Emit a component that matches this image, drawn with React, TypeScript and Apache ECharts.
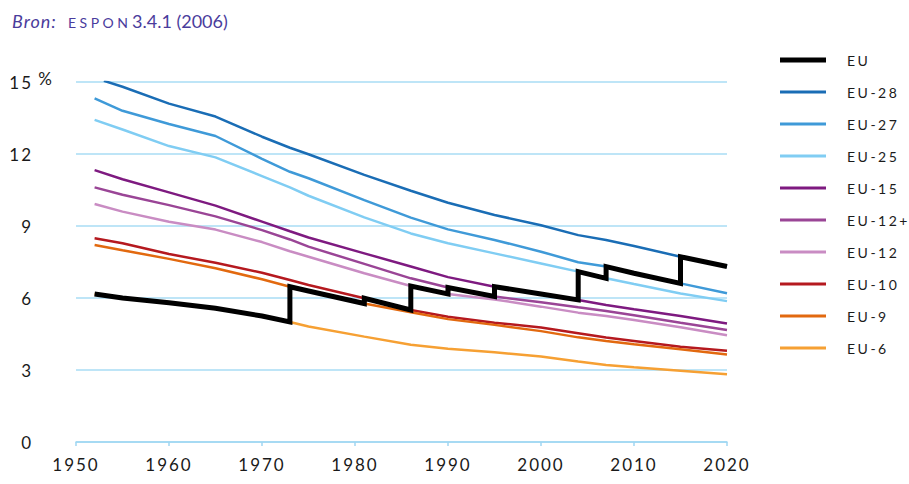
import React, { useEffect, useRef } from "react";
import * as echarts from "echarts";

const years = [1952, 1955, 1960, 1965, 1970, 1973, 1975, 1981, 1986, 1990, 1995, 2000, 2004, 2007, 2010, 2015, 2020];
const years28 = [1953, 1955, 1960, 1965, 1970, 1973, 1975, 1981, 1986, 1990, 1995, 2000, 2004, 2007, 2010, 2015, 2020];

// Share (%) per enlargement variant
const eu28 = [15.05, 14.8, 14.1, 13.56, 12.72, 12.26, 11.99, 11.13, 10.47, 9.97, 9.46, 9.03, 8.62, 8.42, 8.17, 7.72, 7.31];
const eu27 = [14.32, 13.8, 13.25, 12.75, 11.8, 11.26, 10.99, 10.08, 9.35, 8.86, 8.42, 7.93, 7.49, 7.31, 7.03, 6.61, 6.2];
const eu25 = [13.42, 13.02, 12.33, 11.86, 11.08, 10.61, 10.26, 9.36, 8.69, 8.28, 7.86, 7.44, 7.1, 6.82, 6.58, 6.19, 5.87];
const eu15 = [11.33, 10.95, 10.4, 9.85, 9.18, 8.78, 8.52, 7.86, 7.31, 6.87, 6.47, 6.17, 5.92, 5.71, 5.53, 5.25, 4.94];
const eu12plus = [10.61, 10.3, 9.87, 9.4, 8.83, 8.44, 8.14, 7.42, 6.82, 6.44, 6.06, 5.82, 5.61, 5.46, 5.28, 4.97, 4.67];
const eu12 = [9.92, 9.6, 9.18, 8.85, 8.33, 7.95, 7.72, 7.03, 6.5, 6.17, 5.94, 5.64, 5.39, 5.25, 5.08, 4.78, 4.45];
const eu10 = [8.49, 8.28, 7.83, 7.47, 7.05, 6.75, 6.54, 5.99, 5.5, 5.22, 4.97, 4.77, 4.53, 4.35, 4.21, 3.97, 3.8];
const eu9 = [8.21, 7.99, 7.63, 7.24, 6.78, 6.47, 6.29, 5.77, 5.41, 5.12, 4.88, 4.62, 4.36, 4.21, 4.07, 3.86, 3.65];
const eu6 = [6.17, 6.0, 5.8, 5.57, 5.25, 5.0, 4.81, 4.39, 4.05, 3.89, 3.74, 3.56, 3.35, 3.21, 3.11, 2.97, 2.82];

// Which composition "EU" had in which period
const euSegments: [string, number, number][] = [
  ["EU-6", 1952, 1973],
  ["EU-9", 1973, 1981],
  ["EU-10", 1981, 1986],
  ["EU-12", 1986, 1990],
  ["EU-12+", 1990, 1995],
  ["EU-15", 1995, 2004],
  ["EU-25", 2004, 2007],
  ["EU-27", 2007, 2015],
  ["EU-28", 2015, 2020],
];

const yTicks = [0, 3, 6, 9, 12, 15];
const xTicks = [1950, 1960, 1970, 1980, 1990, 2000, 2010, 2020];

const variants = [
  { name: "EU-28", years: years28, values: eu28, color: "#1a6db5" },
  { name: "EU-27", years: years, values: eu27, color: "#3f9ad8" },
  { name: "EU-25", years: years, values: eu25, color: "#80cdf3" },
  { name: "EU-15", years: years, values: eu15, color: "#7e1a80" },
  { name: "EU-12+", years: years, values: eu12plus, color: "#9a4596" },
  { name: "EU-12", years: years, values: eu12, color: "#c98cc3" },
  { name: "EU-10", years: years, values: eu10, color: "#b5191f" },
  { name: "EU-9", years: years, values: eu9, color: "#e2690f" },
  { name: "EU-6", years: years, values: eu6, color: "#f6a033" },
];

const FONT = "Lato";

export default function App() {
  const ref = useRef<HTMLDivElement>(null);

  useEffect(() => {
    if (!ref.current) return;
    const chart = echarts.init(ref.current, undefined, { renderer: "svg" });

    const pts = (name: string) => {
      const v = variants.find((d) => d.name === name)!;
      return v.years.map((y, i) => [y, v.values[i]]);
    };
    const euData = euSegments.flatMap(([name, from, to]) =>
      pts(name).filter(([y]) => y >= from && y <= to)
    );

    const option: any = {
      animation: false,
      grid: { left: 76, right: 182, top: 82, bottom: 42 },
      xAxis: {
        type: "value",
        min: xTicks[0],
        max: xTicks[xTicks.length - 1],
        interval: 10,
        axisLine: { show: true, lineStyle: { color: "#9fd6f2", width: 1.5 } },
        axisTick: { show: true, length: 4, lineStyle: { color: "#9fd6f2", width: 1.5 } },
        splitLine: { show: false },
        axisLabel: {
          color: "#1a1a1a",
          fontSize: 17,
          fontFamily: FONT,
          margin: 14,
          formatter: (v: number) => String(v),
        },
      },
      yAxis: {
        type: "value",
        min: yTicks[0],
        max: yTicks[yTicks.length - 1],
        interval: 3,
        axisLine: { show: false },
        axisTick: { show: false },
        splitLine: { lineStyle: { color: "#a9dcf5", width: 1.5 } },
        axisLabel: {
          align: "right",
          margin: 43,
          color: "#1a1a1a",
          fontSize: 17,
          fontFamily: FONT,
          formatter: (v: number) => String(v),
        },
      },
      legend: [
        {
          data: ["EU"],
          orient: "vertical",
          left: 775,
          top: 48,
          icon: "rect",
          itemWidth: 46,
          itemHeight: 5,
          textStyle: { color: "#1b1b1b", fontSize: 14, fontFamily: FONT, lineHeight: 14, padding: [0, 0, 0, 16] },
        },
        {
          data: variants.map((d) => d.name),
          orient: "vertical",
          left: 775,
          top: 80,
          icon: "rect",
          itemWidth: 46,
          itemHeight: 3,
          itemGap: 18,
          textStyle: { color: "#1b1b1b", fontSize: 14, fontFamily: FONT, lineHeight: 14, padding: [0, 0, 0, 16] },
        },
      ],
      series: [
        ...variants.map((d) => ({
          name: d.name,
          type: "line",
          data: d.years.map((y, i) => [y, d.values[i]]),
          showSymbol: false,
          symbol: "none",
          color: d.color,
          lineStyle: { color: d.color, width: 2.5 },
          z: 2,
        })),
        {
          name: "EU",
          type: "line",
          data: euData,
          showSymbol: false,
          symbol: "none",
          color: "#000000",
          lineStyle: { color: "#000000", width: 5, join: "miter", cap: "butt" },
          z: 5,
        },
      ],
    };

    chart.setOption(option);

    // unit sign next to the top tick label, placed from the axes' own scales
    const yTop = chart.convertToPixel({ yAxisIndex: 0 }, yTicks[yTicks.length - 1]) as number;
    const xLeft = chart.convertToPixel({ xAxisIndex: 0 }, xTicks[0]) as number;

    chart.setOption({
      graphic: [
        {
          type: "text",
          x: 12,
          y: 21,
          style: { text: "Bron:", fontSize: 18, fontStyle: "italic", fontFamily: FONT, fill: "#4a3c9b", verticalAlign: "middle" },
        },
        {
          type: "text",
          x: 68,
          y: 22,
          style: { text: "ESPON", fontSize: 14, fontFamily: FONT, fill: "#4a3c9d", verticalAlign: "middle" },
        },
        {
          type: "text",
          x: 132,
          y: 21,
          style: { text: "3.4.1 (2006)", fontSize: 18, fontFamily: FONT, fill: "#4a3c9c", verticalAlign: "middle" },
        },
        {
          type: "text",
          x: xLeft - 22,
          y: yTop - 4,
          style: { text: "%", fontSize: 17, fontFamily: FONT, fill: "#1a1a1a", align: "right", verticalAlign: "middle" },
        },
      ],
    });

    return () => chart.dispose();
  }, []);

  return (
    <>
      <style>{`
        body { margin: 0; }
        text[fill="#1a1a1a"] { letter-spacing: 2px; }
        text[fill="#1b1b1b"] { letter-spacing: 2.5px; }
        text[fill="#4a3c9d"] { letter-spacing: 3.5px; }
        text[fill="#4a3c9b"] { letter-spacing: 1px; }
      `}</style>
      <div ref={ref} style={{ width: 909, height: 484 }} />
    </>
  );
}
